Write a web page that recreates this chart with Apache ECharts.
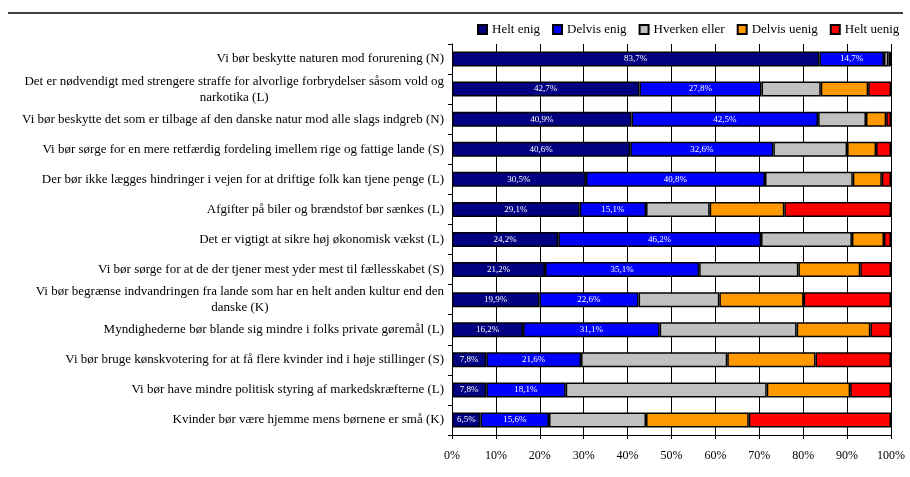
<!DOCTYPE html>
<html>
<head>
<meta charset="utf-8">
<script src="https://cdn.jsdelivr.net/npm/echarts@6/dist/echarts.min.js"></script>
<style>
  html, body { margin: 0; padding: 0; background: #fff; }
  #chart { width: 910px; height: 477px; }
</style>
</head>
<body>
<div id="chart"></div>
<script>
// Survey statements (top to bottom)
const statements = [
  'Vi bør beskytte naturen mod forurening (N)',
  'Det er nødvendigt med strengere straffe for alvorlige forbrydelser såsom vold og\nnarkotika (L)',
  'Vi bør beskytte det som er tilbage af den danske natur mod alle slags indgreb (N)',
  'Vi bør sørge for en mere retfærdig fordeling imellem rige og fattige lande (S)',
  'Der bør ikke lægges hindringer i vejen for at driftige folk kan tjene penge (L)',
  'Afgifter på biler og brændstof bør sænkes (L)',
  'Det er vigtigt at sikre høj økonomisk vækst (L)',
  'Vi bør sørge for at de der tjener mest yder mest til fællesskabet (S)',
  'Vi bør begrænse indvandringen fra lande som har en helt anden kultur end den\ndanske (K)',
  'Myndighederne bør blande sig mindre i folks private gøremål (L)',
  'Vi bør bruge kønskvotering for at få flere kvinder ind i høje stillinger (S)',
  'Vi bør have mindre politisk styring af markedskræfterne (L)',
  'Kvinder bør være hjemme mens børnene er små (K)'
];

// Answer shares in percent, one array per answer category
const heltEnig     = [83.7, 42.7, 40.9, 40.6, 30.5, 29.1, 24.2, 21.2, 19.9, 16.2, 7.8, 7.8, 6.5];
const delvisEnig   = [14.7, 27.8, 42.5, 32.6, 40.8, 15.1, 46.2, 35.1, 22.6, 31.1, 21.6, 18.1, 15.6];
const hverkenEller = [1.0, 13.5, 10.9, 16.8, 20.0, 14.5, 20.7, 22.6, 18.4, 31.2, 33.3, 45.8, 22.1];
const delvisUenig  = [0.4, 10.8, 4.6, 6.6, 6.6, 17.0, 7.3, 14.1, 19.2, 16.8, 20.1, 19.0, 23.4];
const heltUenig    = [0.2, 5.2, 1.1, 3.4, 2.1, 24.3, 1.6, 7.0, 19.9, 4.7, 17.2, 9.3, 32.4];

const seriesNames = ['Helt enig', 'Delvis enig', 'Hverken eller', 'Delvis uenig', 'Helt uenig'];
const seriesData = [heltEnig, delvisEnig, hverkenEller, delvisUenig, heltUenig];
const seriesColors = ['#000080', '#0000FF', '#C0C0C0', '#FF9900', '#FF0000'];
const labelled = [true, true, false, false, false];

const serif = '"Liberation Serif", "DejaVu Serif", serif';

const chart = echarts.init(document.getElementById('chart'));

const series = seriesNames.map((name, i) => ({
  name: name,
  type: 'bar',
  stack: 'total',
  barWidth: 15,
  data: seriesData[i],
  itemStyle: { color: seriesColors[i], borderColor: '#000', borderWidth: 1.5 },
  label: {
    show: labelled[i],
    position: 'inside',
    color: '#fff',
    fontFamily: serif,
    fontSize: 9,
    formatter: p => p.value.toFixed(1).replace('.', ',') + '%'
  },
  emphasis: { disabled: true }
}));

chart.setOption({
  animation: false,
  backgroundColor: '#fff',
  graphic: [{
    type: 'line',
    shape: { x1: 8, y1: 13, x2: 903, y2: 13 },
    style: { stroke: '#000', lineWidth: 1.5 }
  }],
  legend: {
    data: seriesNames,
    left: 472,
    top: 18,
    width: 436,
    padding: 5,
    icon: 'rect',
    itemWidth: 9,
    itemHeight: 9,
    itemGap: 12,
    textStyle: { fontFamily: serif, fontSize: 13, color: '#000' }
  },
  grid: { left: 452, right: 19, top: 44, bottom: 42, containLabel: false },
  xAxis: {
    type: 'value',
    min: 0,
    max: 100,
    interval: 10,
    axisLine: { show: true, lineStyle: { color: '#000', width: 1 } },
    axisTick: { show: true, length: 4, lineStyle: { color: '#000' } },
    splitLine: { show: true, lineStyle: { color: '#000', width: 1 } },
    axisLabel: {
      fontFamily: serif, fontSize: 12, color: '#000', margin: 15,
      formatter: v => v + '%'
    }
  },
  yAxis: {
    type: 'category',
    inverse: true,
    data: statements,
    axisLine: { show: true, lineStyle: { color: '#000', width: 1 } },
    axisTick: { show: true, length: 4, lineStyle: { color: '#000' } },
    axisLabel: {
      fontFamily: serif, fontSize: 13, color: '#000', margin: 8,
      lineHeight: 16,
      formatter: v => v.split('\n').map(s => '{c|' + s + '}').join('\n'),
      rich: { c: { align: 'center', fontFamily: serif, fontSize: 13, color: '#000', lineHeight: 16 } }
    }
  },
  series: series
});
</script>
</body>
</html>
